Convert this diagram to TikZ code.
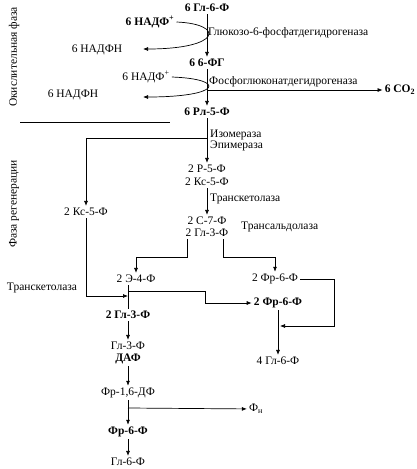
\documentclass[tikz,border=0pt]{standalone}
\usepackage{fontspec}
\setmainfont{Liberation Serif}
\usetikzlibrary{positioning,arrows.meta}
\tikzset{
  flowarrow/.style={-{Latex[length=5pt,width=4pt]}, line width=0.7pt},
  plainline/.style={line width=0.7pt},
  met/.style={inner sep=2pt, font=\fontsize{11.5}{13}\selectfont},
  metb/.style={met, font=\fontsize{11.5}{13}\selectfont\bfseries},
  enz/.style={anchor=west, inner sep=1pt, font=\fontsize{11.5}{13}\selectfont},
  phase/.style={rotate=90, inner sep=1pt, font=\fontsize{11.5}{13}\selectfont}
}

\begin{document}
\begin{tikzpicture}[x=1pt, y=-1pt]
  \useasboundingbox (0,0) rectangle (417,469);
  \node[phase] (oxlab) at (14,57) {Окислительная фаза};
  \node[phase] (reglab) at (14,204) {Фаза регенерации};
  \draw[plainline] (20,122) -- (170,122);

  \node[metb] (g6p) at (207,8) {6 Гл-6-Ф};
  \node[metb] (nadp1) at (150,22) {6 НАДФ\textsuperscript{+}};
  \node[met] (nadph1) at (97,50) {6 НАДФН};
  \node[metb] (pg) at (207,63) {6 6-ФГ};
  \node[met] (nadp2) at (146,77) {6 НАДФ\textsuperscript{+}};
  \node[met] (nadph2) at (73,95) {6 НАДФН};
  \node[metb] (co2) at (400,90) {6 CO\textsubscript{2}};
  \node[metb] (r5p) at (207,112) {6 Рл-5-Ф};
  \node[met] (r5pb) at (207,169) {2 Р-5-Ф};
  \node[met] (xu5p) at (207,182) {2 Кс-5-Ф};
  \node[met] (xu5pl) at (86,212) {2 Кс-5-Ф};
  \node[met] (s7p) at (207,221) {2 С-7-Ф};
  \node[met] (ga3p) at (207,233) {2 Гл-3-Ф};
  \node[met] (e4p) at (136,279) {2 Э-4-Ф};
  \node[met] (f6pa) at (275,279) {2 Фр-6-Ф};
  \node[metb] (f6pb) at (278,303) {2 Фр-6-Ф};
  \node[metb] (ga3pb) at (128,315) {2 Гл-3-Ф};
  \node[met] (ga3pc) at (128,346) {Гл-3-Ф};
  \node[metb] (dhap) at (128,359) {ДАФ};
  \node[met] (fbp) at (128,393) {Фр-1,6-ДФ};
  \node[met] (pin) at (256,409) {Ф\textsubscript{н}};
  \node[metb] (f6pc) at (128,432) {Фр-6-Ф};
  \node[met] (g6pb) at (128,462) {Гл-6-Ф};
  \node[met] (g6pc) at (278,361) {4 Гл-6-Ф};

  \node[enz] (e1) at (207,33) {Глюкозо-6-фосфатдегидрогеназа};
  \node[enz] (e2) at (208,82) {Фосфоглюконатдегидрогеназа};
  \node[enz] (e3) at (209,135) {Изомераза};
  \node[enz] (e4) at (209,146) {Эпимераза};
  \node[enz] (e5) at (209,199) {Транскетолаза};
  \node[enz] (e6) at (240,227) {Трансальдолаза};
  \node[met] (e7) at (42,288) {Транскетолаза};

  \coordinate (t1) at (143,49);
  \coordinate (t2) at (143,97);
  \coordinate (b1) at (207,90);
  \coordinate (b2) at (207,138);
  \coordinate (k1) at (187,257);
  \coordinate (k2) at (223,257);
  \coordinate (k3) at (334,326);
  \coordinate (j1) at (280,326);
  \coordinate (j2) at (128,296);
  \coordinate (j3) at (128,291);
  \coordinate (k4) at (205,291);
  \coordinate (j4) at (128,408);

  \draw[flowarrow] (g6p) -- (pg);
  \draw[flowarrow] (nadp1.east) .. controls (225,24) and (222,49) .. (t1);
  \draw[flowarrow] (pg) -- (r5p);
  \draw[flowarrow] (nadp2.east) .. controls (227,79) and (222,97) .. (t2);
  \draw[flowarrow] (b1) -- (co2);
  \draw[flowarrow] (r5p) -- (r5pb);
  \draw[flowarrow] (b2) -| (xu5pl);
  \draw[flowarrow] (xu5p) -- (s7p);
  \draw[flowarrow] (ga3p.south -| k1) -- (k1) -| (e4p);
  \draw[flowarrow] (ga3p.south -| k2) -- (k2) -| (f6pa);
  \draw[flowarrow] (f6pa.east) -| (k3) -- (j1);
  \draw[flowarrow] (xu5pl) |- (j2);
  \draw[plainline] (e4p.south -| j3) -- (ga3pb.north);
  \draw[flowarrow] (j3) -- (k4) |- (f6pb);
  \draw[flowarrow] (f6pb) -- (g6pc);
  \draw[flowarrow] (ga3pb) -- (ga3pc);
  \draw[flowarrow] (dhap) -- (fbp);
  \draw[flowarrow] (fbp) -- (f6pc);
  \draw[flowarrow] (j4) -- (pin);
  \draw[flowarrow] (f6pc) -- (g6pb);
\end{tikzpicture}
\end{document}
